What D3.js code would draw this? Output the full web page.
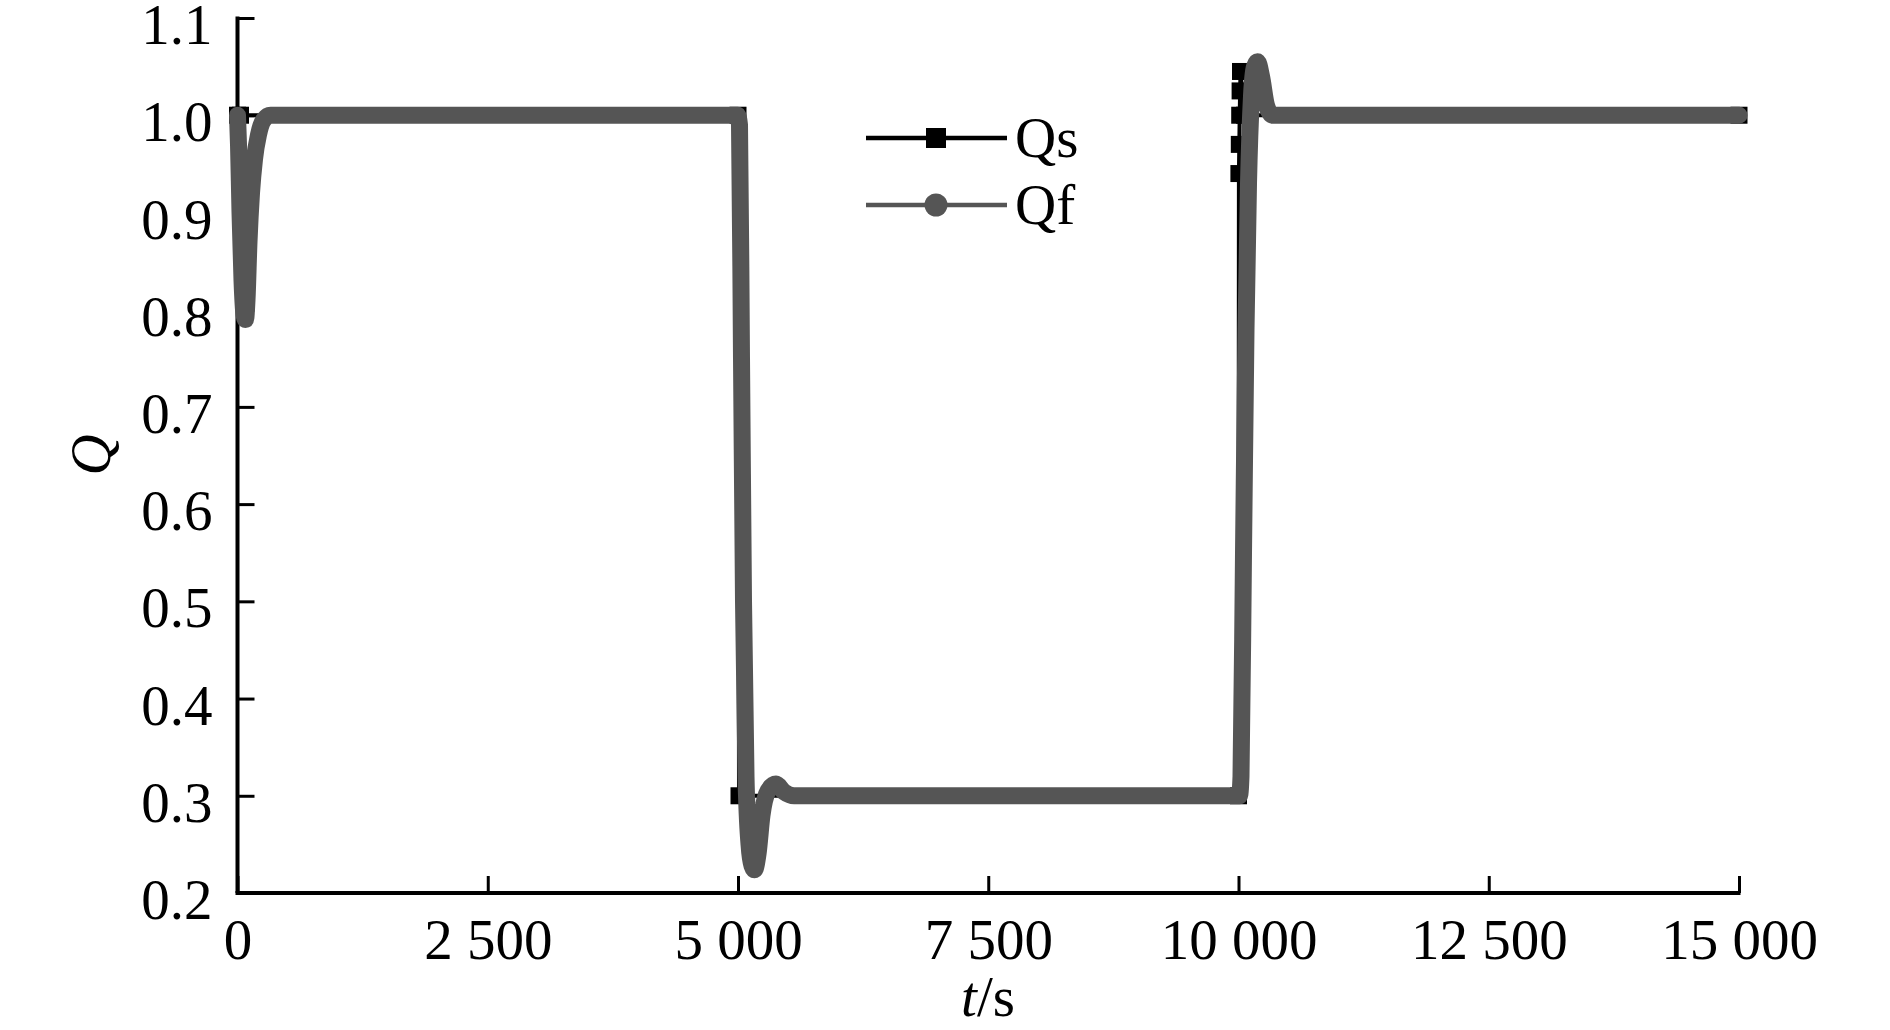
<!DOCTYPE html>
<html>
<head>
<meta charset="utf-8">
<script src="https://cdn.jsdelivr.net/npm/d3@7"></script>
<style>
  body { margin: 0; background: #fff; }
  svg { display: block; }
  text { font-family: "Liberation Serif", "Times New Roman", serif; fill: #000; }
</style>
</head>
<body>
<svg id="chart"></svg>
<script>
// Qs (black, square markers)
var qsT = [0, 30, 5000, 5010, 10000, 10004, 10008, 10012, 10016, 10020, 10060, 15000];
var qsV = [1.0, 1.0, 1.0, 0.3, 0.3, 0.94, 0.97, 1.0, 1.025, 1.045, 1.0, 1.0];

// Qf (grey, circle markers)
var qfT = [0, 10, 25, 45, 65, 80, 95, 115, 140, 170, 210, 260, 330, 2500, 4995,
           5015, 5035, 5055, 5080, 5110, 5140, 5165, 5200, 5240, 5300, 5380, 5460, 5560, 7500, 10010,
           10025, 10050, 10075, 10100, 10130, 10160, 10190, 10230, 10280, 10340, 12500, 15000];
var qfV = [1.0, 0.97, 0.9, 0.83, 0.795, 0.79, 0.81, 0.87, 0.92, 0.955, 0.98, 0.995, 1.0, 1.0, 1.0,
           0.99, 0.75, 0.5, 0.32, 0.25, 0.228, 0.224, 0.24, 0.28, 0.305, 0.312, 0.304, 0.3, 0.3, 0.3,
           0.32, 0.55, 0.78, 0.93, 1.02, 1.05, 1.055, 1.04, 1.01, 1.0, 1.0, 1.0];

var xTicks = [0, 2500, 5000, 7500, 10000, 12500, 15000];
var yTicks = [0.2, 0.3, 0.4, 0.5, 0.6, 0.7, 0.8, 0.9, 1.0, 1.1];
var seriesNames = ["Qs", "Qf"];

var width = 1890, height = 1030;
var svg = d3.select("#chart").attr("width", width).attr("height", height);

var x = d3.scaleLinear().domain([0, 15000]).range([237.5, 1739]);
var y = d3.scaleLinear().domain([0.2, 1.1]).range([893, 18]);

var loc = d3.formatLocale({decimal: ".", thousands: " ", grouping: [3], currency: ["", ""]});
var fmtX = loc.format(",");

var qs = qsT.map(function(t, i) { return {t: t, v: qsV[i]}; });
var qf = qfT.map(function(t, i) { return {t: t, v: qfV[i]}; });

// axes
var xAxis = svg.append("g")
  .attr("transform", "translate(0," + y(0.2) + ")")
  .call(d3.axisBottom(x).tickValues(xTicks).tickFormat(fmtX).tickSizeInner(-17).tickSizeOuter(0).tickPadding(25.5));
xAxis.select(".domain").attr("stroke-width", 4).attr("d", "M" + (x(0) - 2) + ",0H" + (x(15000) + 1.5));
xAxis.selectAll(".tick line").attr("stroke-width", 3);
xAxis.selectAll("text").style("font-size", "57px");

var yAxis = svg.append("g")
  .attr("transform", "translate(" + x(0) + ",0)")
  .call(d3.axisLeft(y).tickValues(yTicks).tickFormat(d3.format(".1f")).tickSizeInner(-17).tickSizeOuter(0).tickPadding(25));
yAxis.select(".domain").attr("stroke-width", 4).attr("d", "M0," + (y(1.1) - 1.5) + "V" + y(0.2));
yAxis.selectAll(".tick line").attr("stroke-width", 3);
yAxis.selectAll("text").style("font-size", "57px").attr("dy", "0.45em");

// axis titles
var xt = svg.append("text")
  .attr("x", 988).attr("y", 1016)
  .attr("text-anchor", "middle")
  .style("font-size", "57px");
xt.append("tspan").style("font-style", "italic").text("t");
xt.append("tspan").text("/s");

svg.append("text")
  .attr("transform", "translate(110,455) rotate(-90)")
  .attr("text-anchor", "middle")
  .style("font-size", "57px")
  .style("font-style", "italic")
  .text("Q");

// Qs
var lineQs = d3.line().x(function(d) { return x(d.t); }).y(function(d) { return y(d.v); });
svg.append("path")
  .datum(qs)
  .attr("d", lineQs)
  .attr("fill", "none")
  .attr("stroke", "#000")
  .attr("stroke-width", 4);
svg.selectAll(".qs-mark")
  .data(qs)
  .enter().append("rect")
  .attr("class", "qs-mark")
  .attr("x", function(d) { return x(d.t) - 8.5; })
  .attr("y", function(d) { return y(d.v) - 8.5; })
  .attr("width", 17)
  .attr("height", 17)
  .attr("fill", "#000");

// Qf
var lineQf = d3.line().curve(d3.curveMonotoneX)
  .x(function(d) { return x(d.t); }).y(function(d) { return y(d.v); });
svg.append("path")
  .datum(qf)
  .attr("d", lineQf)
  .attr("fill", "none")
  .attr("stroke", "#555")
  .attr("stroke-width", 17)
  .attr("stroke-linejoin", "round")
  .attr("stroke-linecap", "round");

// legend
var legend = svg.append("g");
var rows = legend.selectAll("g")
  .data(seriesNames)
  .enter().append("g")
  .attr("transform", function(d, i) { return "translate(0," + (138 + i * 67) + ")"; });
rows.append("line")
  .attr("x1", 866).attr("x2", 1007)
  .attr("stroke", function(d, i) { return i === 0 ? "#000" : "#555"; })
  .attr("stroke-width", 4.5);
rows.filter(function(d, i) { return i === 0; }).append("rect")
  .attr("x", 926).attr("y", -10).attr("width", 20).attr("height", 20).attr("fill", "#000");
rows.filter(function(d, i) { return i === 1; }).append("circle")
  .attr("cx", 936).attr("r", 11.5).attr("fill", "#555");
rows.append("text")
  .attr("x", 1015).attr("y", 19)
  .style("font-size", "57px")
  .text(function(d) { return d; });
</script>
</body>
</html>
